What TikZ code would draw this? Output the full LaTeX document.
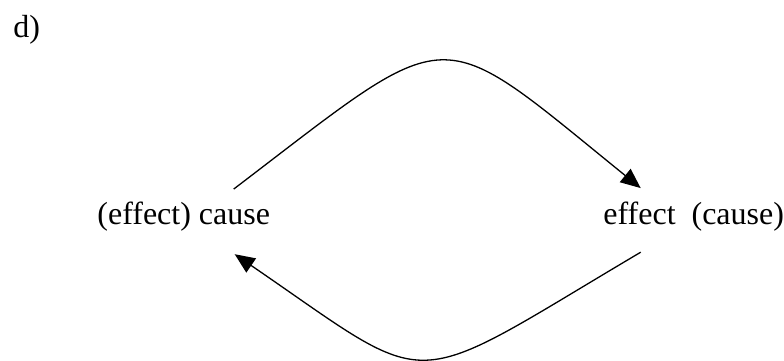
\documentclass[tikz,border=0pt]{standalone}
\usepackage{fontspec}
\setmainfont{Liberation Serif}
\usetikzlibrary{arrows.meta, positioning}

\begin{document}
\begin{tikzpicture}[
      x=0.5pt, y=-0.5pt,
      word/.style={inner sep=0pt, anchor=base west, font=\fontsize{16}{19}\selectfont},
      link/.style={-{Triangle[length=10pt, width=8.5pt]}, line width=0.65pt}
    ]
    \useasboundingbox (0,0) rectangle (784,360);

    \node[word] (tag) at (13,37) {d)};
    \node[word] (cause) at (97,224) {(effect) cause};
    \node[word] (effect) at (603,224) {effect\ \ (cause)};

    % upper arc: cause -> effect
    \draw[link] ([shift={(50,-12)}]cause.north)
      .. controls (457,19) and (432,19) .. ([shift={(-53,-13)}]effect.north);
    % lower arc: effect -> cause
    \draw[link] ([shift={(-53,21)}]effect.south)
      .. controls (401,394) and (439,394) .. ([shift={(51,23)}]cause.south);
  \end{tikzpicture}
\end{document}
